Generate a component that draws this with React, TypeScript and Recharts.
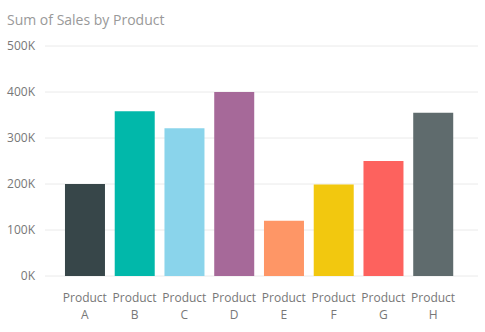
import { BarChart, Bar, XAxis, YAxis, CartesianGrid, Cell } from 'recharts';

const products = ['Product A', 'Product B', 'Product C', 'Product D', 'Product E', 'Product F', 'Product G', 'Product H'];
const sales = [200000, 358000, 321000, 400000, 120000, 199000, 250000, 355000];
const colors = ['#374649', '#01B8AA', '#8AD4EB', '#A66999', '#FE9666', '#F2C80F', '#FD625E', '#5F6B6D'];
const yTicks = [0, 100000, 200000, 300000, 400000, 500000];

const data = products.map((name, i) => ({ name, sales: sales[i] }));

const font = '"Segoe UI", "Open Sans", sans-serif';

const ProductTick = ({ x, y, payload }: any) => {
  const [first, second] = String(payload.value).split(' ');
  return (
    <text x={x} y={y} textAnchor="middle" fill="#777" fontSize={12} fontFamily={font}>
      <tspan x={x} y={y + 18}>{first}</tspan>
      <tspan x={x} y={y + 35}>{second}</tspan>
    </text>
  );
};

export default function App() {
  return (
    <div style={{ position: 'relative', width: 485, height: 332, background: '#fff' }}>
      <style>{'body{margin:0}'}</style>
      <div
        style={{
          position: 'absolute',
          left: 7,
          top: 10,
          fontFamily: font,
          fontSize: 14,
          color: '#999',
        }}
      >
        Sum of Sales by Product
      </div>
      <BarChart width={485} height={332} data={data} margin={{ top: 46, right: 7, bottom: 6, left: 0 }}>
        <CartesianGrid vertical={false} stroke="#eaeaea" />
        <XAxis
          dataKey="name"
          axisLine={false}
          tickLine={false}
          interval={0}
          height={50}
          padding={{ left: 15, right: 20 }}
          tick={<ProductTick />}
        />
        <YAxis
          width={45}
          axisLine={false}
          tickLine={false}
          ticks={yTicks}
          domain={[0, 500000]}
          tickMargin={4}
          tickFormatter={(v: number) => `${v / 1000}K`}
          tick={{ fill: '#777', fontSize: 12, fontFamily: font }}
        />
        <Bar dataKey="sales" isAnimationActive={false}>
          {data.map((d, i) => (
            <Cell key={d.name} fill={colors[i]} />
          ))}
        </Bar>
      </BarChart>
    </div>
  );
}
